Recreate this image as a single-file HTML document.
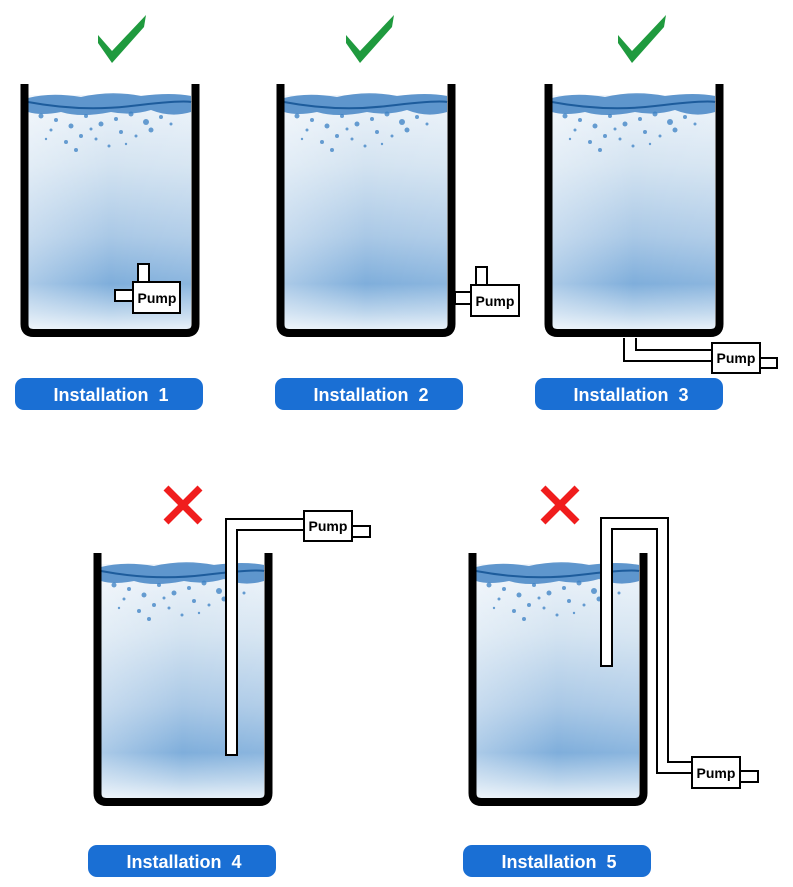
<!DOCTYPE html>
<html><head><meta charset="utf-8"><style>
html,body{margin:0;padding:0;background:#fff;}
svg{display:block;}
text{font-family:"Liberation Sans",sans-serif;font-weight:bold;}
</style></head><body>
<svg width="793" height="887" viewBox="0 0 793 887" xmlns="http://www.w3.org/2000/svg">
<defs>
<linearGradient id="w" x1="0" y1="0" x2="0" y2="1">
<stop offset="0" stop-color="#eef4fa"/>
<stop offset="0.3" stop-color="#d3e3f1"/>
<stop offset="0.6" stop-color="#a9c8e6"/>
<stop offset="0.8" stop-color="#7faedb"/>
<stop offset="0.92" stop-color="#bcd5ec"/>
<stop offset="1" stop-color="#eaf2f9"/>
</linearGradient>
<linearGradient id="wh" x1="0" y1="0" x2="1" y2="0">
<stop offset="0" stop-color="#fff" stop-opacity="0.35"/>
<stop offset="0.5" stop-color="#fff" stop-opacity="0"/>
<stop offset="1" stop-color="#fff" stop-opacity="0.1"/>
</linearGradient>
<g id="tank">
<rect x="7" y="11" width="163" height="236" fill="url(#w)"/>
<rect x="7" y="11" width="163" height="236" fill="url(#wh)"/>
<path d="M7 14 Q30 8 60 13 Q90 6 120 12 Q150 8 170 12 L170 28 Q150 34 130 26 Q110 32 90 28 Q60 34 40 28 Q20 32 7 28 Z" fill="#3b7ec2" opacity="0.8"/>
<path d="M7 18 Q60 28 110 22 T170 18" stroke="#1d5c9c" stroke-width="2" fill="none"/>
<g fill="#3a80c4" opacity="0.75">
<circle cx="20" cy="32" r="2.5"/><circle cx="35" cy="36" r="2"/><circle cx="50" cy="42" r="2.5"/><circle cx="65" cy="32" r="2"/><circle cx="80" cy="40" r="2.5"/><circle cx="95" cy="35" r="2"/><circle cx="110" cy="30" r="2.5"/><circle cx="125" cy="38" r="3"/><circle cx="140" cy="33" r="2"/><circle cx="60" cy="52" r="2"/><circle cx="45" cy="58" r="2"/><circle cx="75" cy="55" r="1.5"/><circle cx="100" cy="48" r="2"/><circle cx="30" cy="46" r="1.5"/><circle cx="88" cy="62" r="1.5"/><circle cx="115" cy="52" r="1.5"/><circle cx="130" cy="46" r="2.5"/><circle cx="70" cy="45" r="1.5"/><circle cx="55" cy="66" r="2"/><circle cx="25" cy="55" r="1.2"/><circle cx="150" cy="40" r="1.5"/><circle cx="105" cy="60" r="1.2"/>
</g>
<path d="M3.5 0 V240 Q3.5 249 12.5 249 H165.5 Q174.5 249 174.5 240 V0" stroke="#000" stroke-width="8" fill="none"/>
</g>
<g id="chk"><path d="M-24 -4 L-10 12 L24 -24 L22 -12 L-10 24 L-24 4 Z" fill="#1f9a3e"/></g>
<g id="x"><path d="M-17 -17 L17 17 M17 -17 L-17 17" stroke="#f01d1d" stroke-width="7"/></g>
</defs>

<use href="#chk" x="122" y="39"/>
<use href="#chk" x="370" y="39"/>
<use href="#chk" x="642" y="39"/>
<use href="#x" x="183" y="505"/>
<use href="#x" x="560" y="505"/>

<use href="#tank" x="21" y="84"/>
<use href="#tank" x="277" y="84"/>
<use href="#tank" x="545" y="84"/>
<use href="#tank" x="94" y="553"/>
<use href="#tank" x="469" y="553"/>

<g fill="#fff" stroke="#000" stroke-width="2">
<rect x="138" y="264" width="11" height="18"/>
<rect x="115" y="290" width="18" height="11"/>
<rect x="133" y="282" width="47" height="31"/>
<rect x="476" y="267" width="11" height="18"/>
<rect x="455" y="292" width="16" height="12"/>
<rect x="471" y="285" width="48" height="31"/>
<path d="M624 338 V361 H712 M636 338 V350 H712" fill="none"/>
<rect x="760" y="358" width="17" height="10"/>
<rect x="712" y="343" width="48" height="30"/>
<path d="M226 755 V519 H304 V530 H237 V755 Z" />
<rect x="352" y="526" width="18" height="11"/>
<rect x="304" y="511" width="48" height="30"/>
<path d="M601 666 V518 H668 V762 H692 V773 H657 V529 H612 V666 Z"/>
<rect x="740" y="771" width="18" height="11"/>
<rect x="692" y="757" width="48" height="31"/>
</g>
<g font-size="14" fill="#000" text-anchor="middle">
<text x="157" y="303">Pump</text>
<text x="495" y="306">Pump</text>
<text x="736" y="363">Pump</text>
<text x="328" y="531">Pump</text>
<text x="716" y="778">Pump</text>
</g>

<g fill="#1a6fd4">
<rect x="15" y="378" width="188" height="32" rx="9"/>
<rect x="275" y="378" width="188" height="32" rx="9"/>
<rect x="535" y="378" width="188" height="32" rx="9"/>
<rect x="88" y="845" width="188" height="32" rx="9"/>
<rect x="463" y="845" width="188" height="32" rx="9"/>
</g>
<g fill="#fff" font-size="18" text-anchor="middle">
<text x="111" y="401" xml:space="preserve">Installation  1</text>
<text x="371" y="401" xml:space="preserve">Installation  2</text>
<text x="631" y="401" xml:space="preserve">Installation  3</text>
<text x="184" y="868" xml:space="preserve">Installation  4</text>
<text x="559" y="868" xml:space="preserve">Installation  5</text>
</g>
</svg>
</body></html>
